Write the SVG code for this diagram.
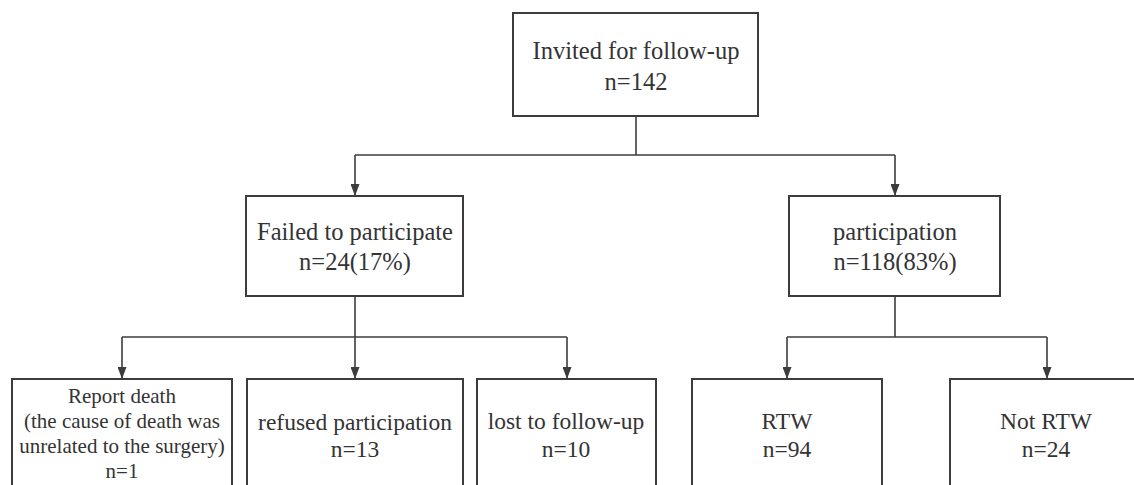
<svg xmlns="http://www.w3.org/2000/svg" width="1134" height="485" viewBox="0 0 1134 485">
<style>
.box{fill:#fff;stroke:#3c3c3c;stroke-width:2}
.t{font-family:'Liberation Serif','Times New Roman',Tinos,'Noto Serif','DejaVu Serif',serif;fill:#333;text-anchor:middle}
.m{font-size:24.5px}
.s{font-size:23.5px}
.x{font-size:21px}
.c{fill:none;stroke:#3c3c3c;stroke-width:1.6}
</style>
<defs>
<marker id="ah" markerUnits="userSpaceOnUse" markerWidth="12" markerHeight="9" refX="12" refY="4.5" orient="auto">
<path d="M0,0 L12,4.5 L0,9 Z" fill="#3c3c3c"/>
</marker>
</defs>
<g id="connectors">
<path class="c" d="M636,116 V155"/>
<path class="c" d="M355,155 H895"/>
<path class="c" d="M355,155 V196" marker-end="url(#ah)"/>
<path class="c" d="M895,155 V196" marker-end="url(#ah)"/>
<path class="c" d="M355,296 V379" marker-end="url(#ah)"/>
<path class="c" d="M122,337 H567"/>
<path class="c" d="M122,337 V379" marker-end="url(#ah)"/>
<path class="c" d="M567,337 V379" marker-end="url(#ah)"/>
<path class="c" d="M895,296 V337"/>
<path class="c" d="M787,337 H1047"/>
<path class="c" d="M787,337 V379" marker-end="url(#ah)"/>
<path class="c" d="M1047,337 V379" marker-end="url(#ah)"/>
</g>
<g id="invited">
<rect class="box" x="513" y="13" width="245" height="103"/>
<text class="t m" x="636" y="59">Invited for follow-up</text>
<text class="t m" x="636" y="90">n=142</text>
</g>
<g id="failed">
<rect class="box" x="246" y="196" width="217" height="100"/>
<text class="t m" x="355" y="240">Failed to participate</text>
<text class="t m" x="355" y="270">n=24(17%)</text>
</g>
<g id="participation">
<rect class="box" x="789" y="196" width="211" height="100"/>
<text class="t m" x="895" y="240">participation</text>
<text class="t m" x="895" y="270">n=118(83%)</text>
</g>
<g id="death">
<rect class="box" x="12" y="379" width="220" height="115"/>
<text class="t x" x="122" y="403">Report death</text>
<text class="t x" x="122" y="428">(the cause of death was</text>
<text class="t x" x="122" y="453">unrelated to the surgery)</text>
<text class="t x" x="122" y="478">n=1</text>
</g>
<g id="refused">
<rect class="box" x="247" y="379" width="216" height="115"/>
<text class="t s" x="355" y="430">refused participation</text>
<text class="t s" x="355" y="457">n=13</text>
</g>
<g id="lost">
<rect class="box" x="477" y="379" width="179" height="115"/>
<text class="t s" x="566" y="429">lost to follow-up</text>
<text class="t s" x="566" y="457">n=10</text>
</g>
<g id="rtw">
<rect class="box" x="692" y="379" width="190" height="115"/>
<text class="t s" x="787" y="429">RTW</text>
<text class="t s" x="787" y="457">n=94</text>
</g>
<g id="notrtw">
<rect class="box" x="950" y="379" width="200" height="115"/>
<text class="t s" x="1046" y="429">Not RTW</text>
<text class="t s" x="1046" y="457">n=24</text>
</g>
</svg>
